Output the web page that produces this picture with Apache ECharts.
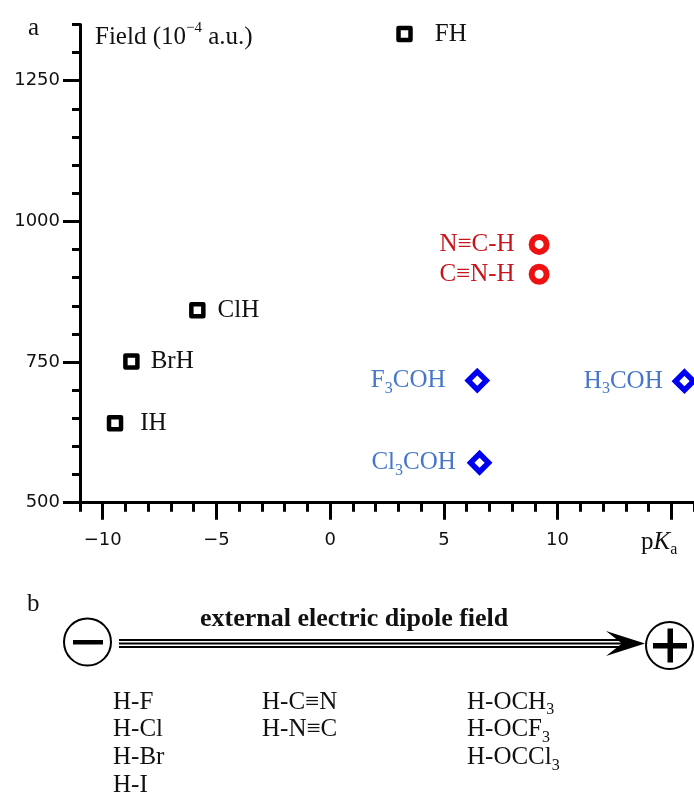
<!DOCTYPE html>
<html>
<head>
<meta charset="utf-8">
<script src="https://cdn.jsdelivr.net/npm/echarts@6/dist/echarts.min.js"></script>
<style>
    html, body { margin: 0; padding: 0; background: #fff; }
    #chart { width: 694px; height: 795px; }
</style>
</head>
<body>
<div id="chart"></div>
<script>
// data: pKa (x) vs field (10^-4 a.u.)
const halideNames = ['FH', 'ClH', 'BrH', 'IH'];
const halidePKa = [3.27, -5.84, -8.74, -9.46];
const halideField = [1333, 842, 751, 641];

const cyanideNames = ['N≡C-H', 'C≡N-H'];
const cyanidePKa = [9.19, 9.19];
const cyanideField = [959, 906];

const alcoholNames = ['F{s|3}COH', 'Cl{s|3}COH', 'H{s|3}COH'];
const alcoholPKa = [6.47, 6.57, 15.58];
const alcoholField = [717, 571, 716];

const xMajorTicks = [-10, -5, 0, 5, 10, 15];
const xTickLabels = [-10, -5, 0, 5, 10];
const yMajorTicks = [500, 750, 1000, 1250];

// panel b lists
const acidGroupLeft = ['H-F', 'H-Cl', 'H-Br', 'H-I'];
const acidGroupMid = ['H-C≡N', 'H-N≡C'];
const acidGroupRight = ['H-OCH{s|3}', 'H-OCF{s|3}', 'H-OCCl{s|3}'];

const serif = '"Liberation Serif", "DejaVu Serif", serif';
const sans = '"DejaVu Sans", sans-serif';
const ink = '#111';

const subRich = (color) => ({
    s: { fontSize: 16, lineHeight: 16, verticalAlign: 'bottom', fontFamily: serif, color: color }
});

// label gap per point (pixels from the marker)
const halideGap = [22, 12, 11, 17];
const cyanideGap = [14, 14];
const alcoholGap = [20, 12, 10];

const buildPoints = (names, xs, ys, gaps) =>
    names.map((n, i) => ({ name: n, value: [xs[i], ys[i]], label: { distance: gaps[i] } }));

const chart = echarts.init(document.getElementById('chart'), null, { renderer: 'canvas' });

const labelBase = (color, position) => ({
    show: true,
    position: position,
    formatter: '{b}',
    fontFamily: serif,
    fontSize: 25,
    lineHeight: 32,
    color: color,
    opacity: 1,
    rich: subRich(color)
});

const textEl = (text, x, y, extra) => ({
    type: 'text',
    x: x,
    y: y,
    style: Object.assign({
        text: text,
        font: '25px ' + serif,
        fill: ink,
        verticalAlign: 'middle',
        rich: {
            s: { fontSize: 16, lineHeight: 16, verticalAlign: 'bottom', fontFamily: serif, fill: ink },
            p: { fontSize: 15, lineHeight: 15, verticalAlign: 'top', fontFamily: serif, fill: ink },
            i: { fontStyle: 'italic', fontSize: 25, lineHeight: 32, fontFamily: serif, fill: ink },
            n: { fontSize: 25, lineHeight: 32, fontFamily: serif, fill: ink }
        }
    }, extra || {})
});

const graphics = [];
graphics.push(textEl('a', 28, 28));
graphics.push(textEl('{n|Field (10}{p|\u22124}{n| a.u.)}', 95, 37));
graphics.push(textEl('{n|p}{i|K}{s|a}', 641, 542));
graphics.push(textEl('b', 27, 604));
graphics.push(textEl('external electric dipole field', 200, 619, { font: 'bold 26px ' + serif }));

// minus and plus charges
graphics.push({ type: 'circle', shape: { cx: 87.5, cy: 642, r: 23.5 }, style: { fill: '#fff', stroke: '#000', lineWidth: 2 } });
graphics.push({ type: 'rect', shape: { x: 73, y: 640, width: 30, height: 4.5 }, style: { fill: '#000' } });
graphics.push({ type: 'circle', shape: { cx: 669.5, cy: 645.5, r: 23.5 }, style: { fill: '#fff', stroke: '#000', lineWidth: 2 } });
graphics.push({ type: 'rect', shape: { x: 653, y: 643, width: 34, height: 5.5 }, style: { fill: '#000' } });
graphics.push({ type: 'rect', shape: { x: 667.5, y: 628.5, width: 5.5, height: 34 }, style: { fill: '#000' } });

// triple-line arrow
[640, 643.5, 647].forEach(y => {
    graphics.push({ type: 'line', shape: { x1: 119, y1: y, x2: 628, y2: y }, style: { stroke: '#000', lineWidth: 2 } });
});
graphics.push({
    type: 'polygon',
    shape: { points: [[645, 643.5], [606, 631], [622, 643.5], [606, 656]] },
    style: { fill: '#000' }
});

acidGroupLeft.forEach((t, i) => graphics.push(textEl(t, 113, 702 + i * 27.7)));
acidGroupMid.forEach((t, i) => graphics.push(textEl(t, 262, 702 + i * 27.7)));
acidGroupRight.forEach((t, i) => graphics.push(textEl('{n|' + t.replace('{s|3}', '}{s|3}'), 467, 702 + i * 27.7)));

const option = {
    animation: false,
    backgroundColor: '#fff',
    grid: { left: 80, right: -3, top: 24.4, bottom: 292.3, containLabel: false },
    xAxis: [
        {
            type: 'value',
            min: -11,
            max: 16,
            position: 'bottom',
            axisLine: { onZero: false, lineStyle: { color: '#000', width: 3 } },
            axisTick: { customValues: xMajorTicks, length: 17, lineStyle: { color: '#000', width: 3 } },
            axisLabel: {
                customValues: xTickLabels,
                margin: 29,
                fontFamily: sans,
                fontSize: 18,
                color: ink,
                formatter: v => (v < 0 ? '\u2212' + Math.abs(v) : String(v))
            },
            splitLine: { show: false }
        },
        {
            type: 'value',
            min: -11,
            max: 16,
            interval: 1,
            position: 'bottom',
            axisLine: { show: false, onZero: false },
            axisTick: { length: 9, lineStyle: { color: '#000', width: 3 } },
            axisLabel: { show: false },
            splitLine: { show: false }
        }
    ],
    yAxis: [
        {
            type: 'value',
            min: 500,
            max: 1350,
            position: 'left',
            axisLine: { onZero: false, lineStyle: { color: '#000', width: 3 } },
            axisTick: { customValues: yMajorTicks, length: 17, lineStyle: { color: '#000', width: 3 } },
            axisLabel: {
                customValues: yMajorTicks,
                margin: 20,
                fontFamily: sans,
                fontSize: 18,
                color: ink,
                padding: [6, 0, 0, 0],
                formatter: v => String(v)
            },
            splitLine: { show: false }
        },
        {
            type: 'value',
            min: 500,
            max: 1350,
            interval: 50,
            position: 'left',
            axisLine: { show: false, onZero: false },
            axisTick: { length: 8, lineStyle: { color: '#000', width: 3 } },
            axisLabel: { show: false },
            splitLine: { show: false }
        }
    ],
    series: [
        {
            name: 'halides',
            type: 'scatter',
            symbol: 'rect',
            symbolSize: 12,
            itemStyle: { color: '#fff', borderColor: '#000', borderWidth: 4.5, borderJoin: 'round', opacity: 1 },
            label: labelBase(ink, 'right'),
            data: buildPoints(halideNames, halidePKa, halideField, halideGap)
        },
        {
            name: 'cyanides',
            type: 'scatter',
            symbol: 'circle',
            symbolSize: 15,
            itemStyle: { color: '#fff', borderColor: '#ee1111', borderWidth: 6, opacity: 1 },
            label: labelBase('#c8141b', 'left'),
            data: buildPoints(cyanideNames, cyanidePKa, cyanideField, cyanideGap)
        },
        {
            name: 'alcohols',
            type: 'scatter',
            symbol: 'diamond',
            symbolSize: 18,
            itemStyle: { color: '#fff', borderColor: '#0000f0', borderWidth: 5.5, opacity: 1 },
            label: labelBase('#4676cc', 'left'),
            data: buildPoints(alcoholNames, alcoholPKa, alcoholField, alcoholGap)
        }
    ],
    graphic: graphics
};

chart.setOption(option);
</script>
</body>
</html>
